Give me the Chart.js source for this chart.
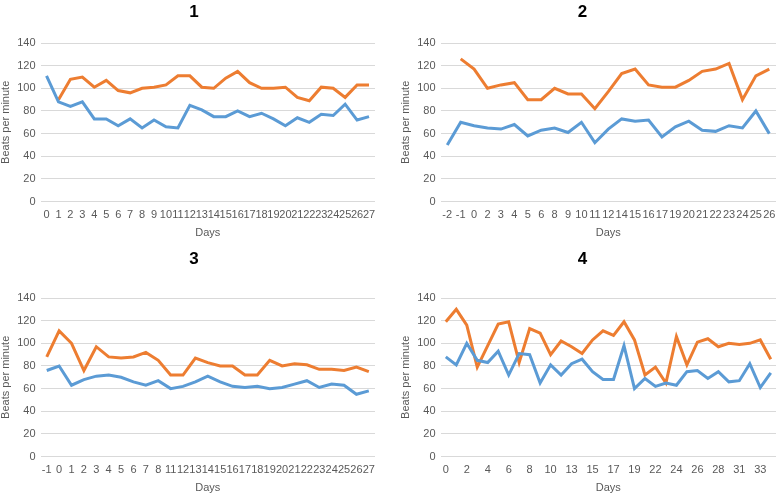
<!DOCTYPE html>
<html>
<head>
<meta charset="utf-8">
<script src="https://cdn.jsdelivr.net/npm/chart.js@4.4.1/dist/chart.umd.min.js"></script>
<style>
  body { margin: 0; background: #fff; }
  .box { position: absolute; width: 388px; height: 247px; }
</style>
</head>
<body>
<div class="box" style="left:0;top:0"><canvas id="c1"></canvas></div>
<div class="box" style="left:388px;top:0;width:389px"><canvas id="c2"></canvas></div>
<div class="box" style="left:0;top:247px"><canvas id="c3"></canvas></div>
<div class="box" style="left:388px;top:247px;width:389px"><canvas id="c4"></canvas></div>
<script>
// panel 1
const days1 = [0,1,2,3,4,5,6,7,8,9,10,11,12,13,14,15,16,17,18,19,20,21,22,23,24,25,26,27];
const blue1 = [111,88,84,88,73,73,67,73,65,72,66,65,85,81,75,75,80,75,78,73,67,74,70,77,76,86,72,75];
const orange1 = [null,90,108,110,101,107,98,96,100,101,103,111,111,101,100,109,115,105,100,100,101,92,89,101,100,92,103,103];

// panel 2
const days2 = [-2,-1,0,2,3,4,5,6,8,9,10,11,12,14,15,16,17,19,20,21,22,23,24,25,26];
const blue2 = [50,70,67,65,64,68,58,63,65,61,70,52,64,73,71,72,57,66,71,63,62,67,65,80,60];
const orange2 = [null,126,117,100,103,105,90,90,100,95,95,82,97,113,117,103,101,101,107,115,117,122,90,111,117];

// panel 3
const days3 = [-1,0,1,2,3,4,5,6,7,8,11,12,13,14,15,16,17,18,19,20,21,22,23,24,25,26,27];
const blue3 = [76,80,63,68,71,72,70,66,63,67,60,62,66,71,66,62,61,62,60,61,64,67,61,64,63,55,58];
const orange3 = [88,111,100,76,97,88,87,88,92,85,72,72,87,83,80,80,72,72,85,80,82,81,77,77,76,79,75];

// panel 4
const days4 = [0,1,2,3,4,5,6,7,8,9,10,12,13,14,15,16,17,18,19,21,22,23,24,25,26,27,28,29,31,32,33,34];
const blue4 = [88,81,100,85,83,93,72,91,90,65,81,72,82,86,75,68,68,98,60,69,62,65,63,75,76,69,75,66,67,82,61,74];
const orange4 = [119,130,116,79,98,117,119,83,113,109,90,102,97,91,103,111,107,119,103,72,79,65,106,81,101,104,97,100,99,100,103,86];

const yTicks = [0,20,40,60,80,100,120,140];

const FONT = "'Liberation Sans', Arial, sans-serif";
const GREY = '#595959';

// title centred on the whole panel, not on the padded layout box
const panelTitle = {
    id: 'panelTitle',
    afterDraw(chart, args, opts) {
        const ctx = chart.ctx;
        ctx.save();
        ctx.font = 'bold 17px ' + FONT;
        ctx.fillStyle = '#000';
        ctx.textAlign = 'center';
        ctx.textBaseline = 'middle';
        ctx.fillText(opts.text, chart.width / 2, 12);
        ctx.restore();
    }
};

function makeChart(id, title, days, blue, orange, everyOther, padLeft, padRight, padTop, padBottom) {
    return new Chart(document.getElementById(id), {
        type: 'line',
        data: {
            labels: days,
            datasets: [
                { data: blue, borderColor: '#5b9bd5', borderWidth: 3, pointRadius: 0, tension: 0 },
                { data: orange, borderColor: '#ed7d31', borderWidth: 3, pointRadius: 0, tension: 0 }
            ]
        },
        plugins: [panelTitle],
        options: {
            responsive: true,
            maintainAspectRatio: false,
            animation: false,
            layout: { padding: { left: padLeft, right: padRight, top: padTop, bottom: padBottom } },
            plugins: {
                legend: { display: false },
                tooltip: { enabled: false },
                title: { display: false },
                panelTitle: { text: title }
            },
            scales: {
                x: {
                    offset: true,
                    grid: { display: false, drawTicks: false },
                    border: { display: false },
                    afterFit: function (axis) { axis.paddingLeft = 0; axis.paddingRight = 0; },
                    ticks: {
                        color: GREY,
                        font: { family: FONT, size: 11 },
                        maxRotation: 0,
                        autoSkip: false,
                        padding: 7,
                        callback: function (v, i) {
                            if (everyOther && i % 2) return '';
                            return days[i];
                        }
                    },
                    title: { display: true, text: 'Days', color: GREY, font: { family: FONT, size: 11 }, padding: { top: -2, bottom: 0 } }
                },
                y: {
                    min: 0,
                    max: 140,
                    afterBuildTicks: function (axis) { axis.ticks = yTicks.map(v => ({ value: v })); },
                    grid: { color: '#d9d9d9', lineWidth: 1, drawTicks: false },
                    border: { display: false },
                    ticks: { color: GREY, font: { family: FONT, size: 11 }, padding: 5 },
                    title: { display: true, text: 'Beats per minute', color: GREY, font: { family: FONT, size: 11 }, padding: { top: 0, bottom: 0 } }
                }
            }
        }
    });
}

makeChart('c1', '1', days1, blue1, orange1, false, -1, 13, 43, 7);
makeChart('c2', '2', days2, blue2, orange2, false, 11, 1, 43, 7);
makeChart('c3', '3', days3, blue3, orange3, false, -1, 13, 51, -1);
makeChart('c4', '4', days4, blue4, orange4, true, 11, 1, 51, -1);
</script>
</body>
</html>
